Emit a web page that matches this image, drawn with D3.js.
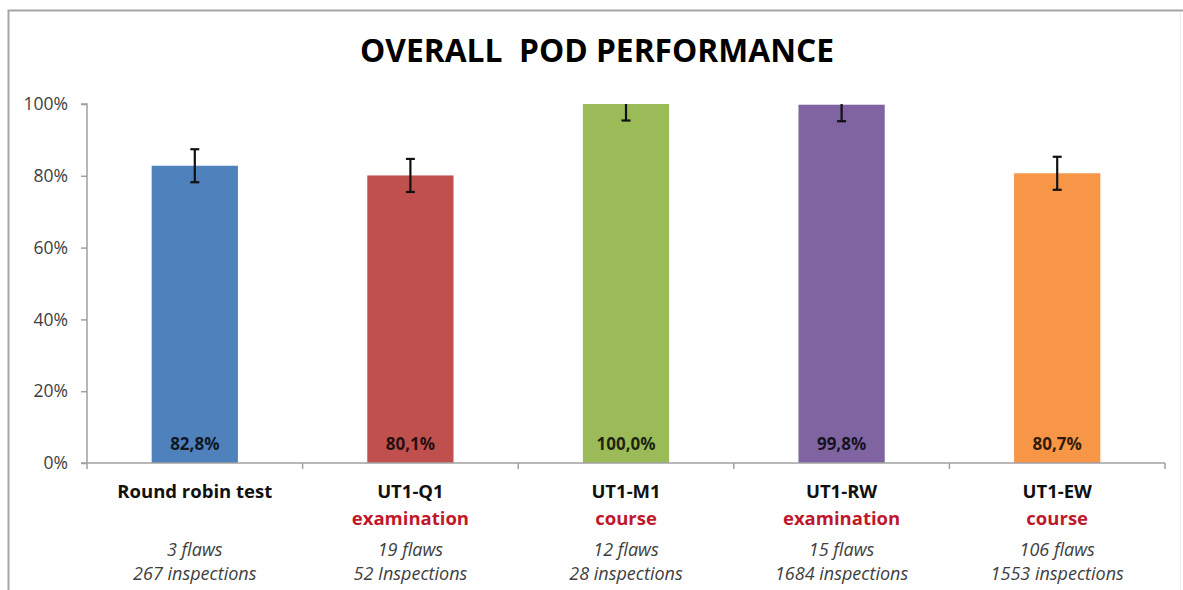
<!DOCTYPE html>
<html>
<head>
<meta charset="utf-8">
<script src="https://cdn.jsdelivr.net/npm/d3@7"></script>
<style>
  html, body { margin: 0; padding: 0; background: #fff; }
  svg { display: block; }
</style>
</head>
<body>
<div id="chart"></div>
<script>
// ---- data ----
const categories = ["Round robin test", "UT1-Q1", "UT1-M1", "UT1-RW", "UT1-EW"];
const subLabels = ["", "examination", "course", "examination", "course"];
const flawLabels = ["3 flaws", "19 flaws", "12 flaws", "15 flaws", "106 flaws"];
const inspectionLabels = ["267 inspections", "52 Inspections", "28 inspections", "1684 inspections", "1553 inspections"];
const values = [82.8, 80.1, 100.0, 99.8, 80.7];
const valueLabels = ["82,8%", "80,1%", "100,0%", "99,8%", "80,7%"];
const errors = [4.6, 4.6, 4.6, 4.6, 4.6];
const colors = ["#4f81bd", "#c0504d", "#9bbb59", "#8064a2", "#f79646"];
const yTicks = [0, 20, 40, 60, 80, 100];

const W = 1183, H = 590;
const margin = { left: 87, right: 18, top: 104, bottom: 127 };
const fontFamily = "'Open Sans', 'Noto Sans', sans-serif";

const svg = d3.select("#chart").append("svg")
  .attr("width", W).attr("height", H);

// frame
svg.append("rect").attr("x", 0).attr("y", 0).attr("width", W).attr("height", H).attr("fill", "#fff");
svg.append("path")
  .attr("d", `M8.5,${H} V10.5 H${W}`)
  .attr("fill", "none").attr("stroke", "#a6a6a6").attr("stroke-width", 2);
svg.append("line")
  .attr("x1", 1180.5).attr("x2", 1180.5).attr("y1", 12).attr("y2", H)
  .attr("stroke", "#eeeeee").attr("stroke-width", 1);

const x = d3.scaleBand()
  .domain(categories)
  .range([margin.left, W - margin.right])
  .paddingInner(0.6)
  .paddingOuter(0.3);

const y = d3.scaleLinear()
  .domain([0, 100])
  .range([H - margin.bottom, margin.top]);

// title
svg.append("text")
  .attr("x", 597).attr("y", 62)
  .attr("text-anchor", "middle")
  .attr("font-family", fontFamily)
  .attr("font-weight", "bold")
  .attr("font-size", 33)
  .attr("fill", "#000")
  .attr("textLength", 474)
  .attr("lengthAdjust", "spacingAndGlyphs")
  .attr("xml:space", "preserve")
  .style("white-space", "pre")
  .text("OVERALL  POD PERFORMANCE");

// clip for plot area
svg.append("clipPath").attr("id", "plotclip")
  .append("rect")
  .attr("x", margin.left).attr("y", y(100))
  .attr("width", W - margin.left - margin.right)
  .attr("height", y(0) - y(100));

// bars
const step = x.step();
svg.append("g").selectAll("rect")
  .data(categories)
  .join("rect")
  .attr("x", d => x(d))
  .attr("width", x.bandwidth())
  .attr("y", (d, i) => y(values[i]))
  .attr("height", (d, i) => y(0) - y(values[i]))
  .attr("fill", (d, i) => colors[i]);

// error bars
const eg = svg.append("g").attr("clip-path", "url(#plotclip)")
  .attr("stroke", "#111").attr("stroke-width", 2.2);
categories.forEach((c, i) => {
  const cx = x(c) + x.bandwidth() / 2;
  const hi = y(values[i] + errors[i]);
  const lo = y(values[i] - errors[i]);
  eg.append("line").attr("x1", cx).attr("x2", cx).attr("y1", hi).attr("y2", lo);
  eg.append("line").attr("x1", cx - 4.5).attr("x2", cx + 4.5).attr("y1", hi).attr("y2", hi);
  eg.append("line").attr("x1", cx - 4.5).attr("x2", cx + 4.5).attr("y1", lo).attr("y2", lo);
});

// value labels inside bars
svg.append("g").selectAll("text")
  .data(categories)
  .join("text")
  .attr("x", d => x(d) + x.bandwidth() / 2)
  .attr("y", y(0) - 13)
  .attr("text-anchor", "middle")
  .attr("font-family", fontFamily)
  .attr("font-weight", "bold")
  .attr("font-size", 17)
  .attr("fill", "rgba(0,0,0,0.82)")
  .text((d, i) => valueLabels[i]);

// y axis
const yAxis = d3.axisLeft(y)
  .tickValues(yTicks)
  .tickFormat(d => d + "%")
  .tickSize(6)
  .tickPadding(13);
const yg = svg.append("g")
  .attr("transform", `translate(${margin.left},0)`)
  .call(yAxis);
yg.select(".domain").attr("stroke", "#a0a0a0").attr("stroke-width", 1.5)
  .attr("d", `M-6,${y(100)}H0V${y(0)}`);
yg.selectAll(".tick line").attr("stroke", "#a0a0a0").attr("stroke-width", 1.5);
yg.selectAll(".tick text")
  .attr("font-family", fontFamily)
  .attr("font-size", 17.5)
  .attr("fill", "#404040");

// x axis
const xAxis = d3.axisBottom(x).tickSize(0).tickFormat("");
const xg = svg.append("g")
  .attr("transform", `translate(0,${y(0)})`)
  .call(xAxis);
xg.select(".domain").attr("stroke", "#a0a0a0").attr("stroke-width", 1.5)
  .attr("d", `M${margin.left - 6},0H${W - margin.right}`);
// category boundary ticks
const boundaries = categories.map(c => x(c) - (step - x.bandwidth()) / 2).concat([W - margin.right]);
xg.selectAll(".btick")
  .data(boundaries)
  .join("line")
  .attr("class", "btick")
  .attr("x1", d => d).attr("x2", d => d)
  .attr("y1", 0).attr("y2", 6)
  .attr("stroke", "#a0a0a0").attr("stroke-width", 1.5);

// category labels
const lab = svg.append("g").attr("font-family", fontFamily).attr("text-anchor", "middle");
categories.forEach((c, i) => {
  const cx = x(c) + x.bandwidth() / 2;
  lab.append("text").attr("x", cx).attr("y", 498)
    .attr("font-weight", "bold").attr("font-size", 18.5).attr("fill", "#111")
    .text(c);
  if (subLabels[i]) {
    lab.append("text").attr("x", cx).attr("y", 525)
      .attr("font-weight", "bold").attr("font-size", 18.5).attr("fill", "#c0182b")
      .text(subLabels[i]);
  }
  lab.append("text").attr("x", cx).attr("y", 556)
    .attr("font-style", "italic").attr("font-size", 18).attr("fill", "#404040")
    .text(flawLabels[i]);
  lab.append("text").attr("x", cx).attr("y", 580)
    .attr("font-style", "italic").attr("font-size", 18).attr("fill", "#404040")
    .text(inspectionLabels[i]);
});
</script>
</body>
</html>
